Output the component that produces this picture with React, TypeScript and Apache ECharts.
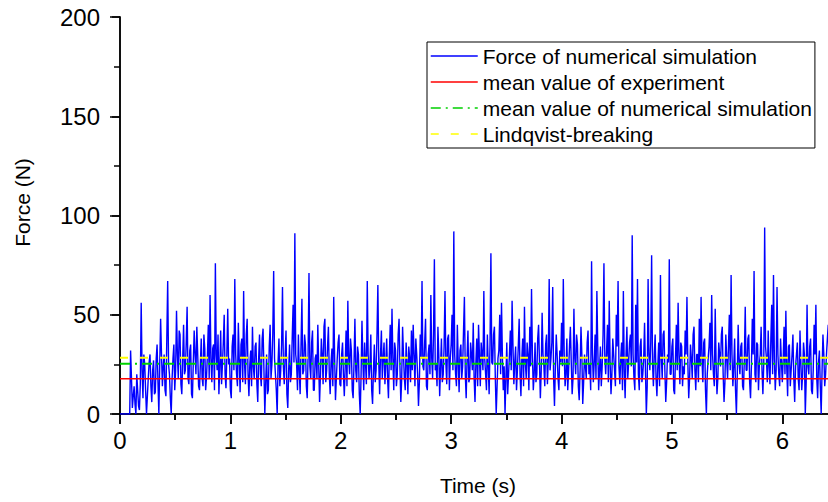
import React, { useEffect, useRef } from "react";
import * as echarts from "echarts";

// sampling step of the simulated force signal (s)
const timeStep = 0.008;

// Force of numerical simulation (N)
const forceValues: number[] = [
  0, 0, 0, 0, 0, 0, 0, 0, 0, 0, 0, 0, 32, 18, 3, 9, 14, 5, 0, 20, 12, 4, 2, 15, 56, 22, 8, 30, 25, 12, 0, 9, 18, 26, 30, 14, 6, 22, 27, 10, 11, 28, 35, 16, 0, 25, 48, 30, 14, 24,
  30, 12, 9, 38, 67, 25, 20, 8, 0, 18, 28, 35, 12, 22, 52, 30, 18, 42, 40, 15, 10, 28, 45, 20, 22, 36, 54, 18, 15, 32, 35, 10, 8, 26, 42, 30, 20, 44, 30, 14, 12, 25, 38, 18, 14, 40, 33, 12, 19, 30,
  45, 18, 60, 28, 16, 33, 35, 12, 76, 30, 22, 40, 10, 24, 42, 15, 25, 36, 50, 20, 13, 30, 53, 25, 28, 12, 8, 34, 40, 22, 68, 30, 20, 14, 46, 28, 11, 35, 38, 16, 62, 26, 15, 40, 48, 20, 9, 25, 32, 14,
  44, 24, 18, 34, 36, 15, 6, 28, 40, 20, 14, 38, 43, 22, 0, 16, 30, 10, 12, 34, 45, 18, 25, 40, 72, 28, 20, 12, 0, 26, 38, 14, 22, 35, 64, 24, 15, 30, 42, 10, 3, 22, 35, 16, 20, 38, 55, 26, 91, 30,
  25, 12, 40, 22, 10, 35, 58, 20, 22, 40, 35, 14, 8, 30, 71, 24, 18, 36, 42, 12, 12, 28, 30, 18, 45, 25, 6, 20, 38, 30, 15, 44, 48, 16, 22, 34, 44, 20, 10, 26, 33, 14, 59, 30, 7, 18, 28, 36, 40, 15,
  14, 30, 36, 20, 9, 24, 42, 14, 57, 28, 20, 38, 32, 12, 8, 26, 48, 22, 16, 34, 30, 10, 0, 20, 47, 28, 12, 36, 26, 15, 67, 30, 18, 24, 40, 12, 5, 22, 35, 16, 22, 40, 65, 26, 10, 30, 42, 18, 28, 36,
  15, 26, 38, 18, 8, 30, 45, 22, 53, 28, 12, 36, 32, 14, 20, 40, 48, 24, 6, 18, 44, 30, 18, 12, 36, 26, 10, 34, 28, 16, 42, 22, 45, 30, 14, 38, 30, 20, 4, 16, 40, 28, 67, 24, 22, 36, 48, 14, 12, 30,
  35, 20, 60, 28, 18, 40, 78, 22, 25, 14, 44, 30, 9, 24, 38, 16, 20, 34, 62, 26, 15, 38, 40, 12, 28, 35, 50, 22, 92, 30, 20, 14, 45, 26, 11, 32, 35, 18, 24, 42, 59, 20, 8, 28, 42, 16, 18, 36, 30, 22,
  46, 18, 6, 26, 38, 14, 45, 30, 14, 36, 30, 22, 62, 28, 20, 12, 40, 24, 10, 35, 81, 26, 25, 40, 44, 18, 0, 14, 28, 32, 50, 20, 56, 30, 12, 24, 0, 18, 36, 10, 20, 30, 42, 22, 57, 34, 15, 26, 34, 12,
  22, 34, 48, 20, 9, 28, 38, 14, 54, 26, 18, 36, 30, 12, 44, 24, 63, 30, 12, 20, 36, 16, 20, 38, 45, 26, 8, 22, 51, 30, 24, 14, 35, 40, 15, 28, 68, 22, 28, 36, 64, 18, 4, 24, 40, 30, 18, 12, 32, 26,
  46, 24, 68, 30, 14, 20, 38, 12, 22, 34, 44, 26, 10, 18, 53, 28, 20, 40, 35, 14, 7, 22, 44, 30, 5, 16, 30, 24, 18, 36, 42, 20, 25, 12, 77, 30, 16, 26, 40, 18, 62, 34, 12, 22, 34, 14, 24, 40, 76, 28,
  20, 32, 45, 16, 57, 26, 10, 20, 38, 30, 22, 14, 50, 34, 67, 24, 15, 28, 36, 12, 62, 22, 8, 30, 44, 18, 26, 36, 40, 24, 90, 30, 18, 12, 55, 26, 68, 20, 12, 34, 38, 16, 20, 28, 46, 22, 0, 14, 68, 30,
  22, 36, 80, 26, 14, 30, 40, 18, 9, 24, 36, 14, 70, 28, 18, 40, 42, 22, 6, 16, 30, 26, 78, 20, 20, 34, 38, 12, 10, 28, 45, 22, 56, 30, 15, 36, 34, 14, 24, 20, 42, 30, 59, 26, 8, 18, 35, 28, 18, 40,
  44, 22, 12, 30, 30, 16, 48, 24, 59, 28, 16, 36, 38, 12, 0, 20, 28, 34, 46, 22, 60, 30, 20, 14, 53, 26, 10, 18, 36, 30, 24, 40, 44, 20, 6, 16, 40, 28, 18, 34, 50, 22, 70, 30, 14, 24, 38, 12, 0, 20,
  45, 26, 20, 34, 36, 14, 12, 28, 54, 22, 22, 38, 40, 16, 8, 24, 48, 30, 72, 20, 16, 36, 35, 12, 25, 30, 44, 22, 10, 26, 94, 34, 28, 16, 42, 24, 15, 38, 55, 20, 70, 28, 12, 22, 64, 30, 20, 14, 38, 26,
  16, 28, 44, 20, 52, 24, 9, 34, 35, 14, 22, 30, 40, 18, 6, 24, 30, 36, 18, 12, 42, 26, 12, 20, 36, 30, 0, 16, 55, 24, 20, 34, 38, 12, 10, 22, 45, 30, 55, 18, 8, 26, 32, 14, 0, 22, 40, 30, 14, 20, 30, 38, 45, 22, 12, 28, 28, 16,
];

const meanExperiment = 17.8;
const meanSimulation = 25.3;
const lindqvistBreaking = 28.4;

const xRange = [0, 6.45];
const yRange = [0, 200];

const seriesNames = [
  "Force of numerical simulation",
  "mean value of experiment",
  "mean value of numerical simulation",
  "Lindqvist-breaking",
];

const xTitle = "Time (s)";
const yTitle = "Force (N)";

const FONT = "'Liberation Sans', Arial, Helvetica, sans-serif";

export default function App() {
  const ref = useRef<HTMLDivElement>(null);

  useEffect(() => {
    document.body.style.margin = "0";
    if (!ref.current) return;
    const chart = echarts.init(ref.current, undefined, { renderer: "svg" });

    const forceData = forceValues.map((v, i) => [i * timeStep, v]);
    const hLine = (v: number) => [
      [xRange[0], v],
      [xRange[1], v],
    ];

    const axisLine = { show: true, lineStyle: { color: "#000", width: 1.5 } };

    chart.setOption({
      animation: false,
      backgroundColor: "#fff",
      textStyle: { fontFamily: FONT },
      grid: { left: 120, right: 0, top: 17, bottom: 88, containLabel: false },
      legend: {
        orient: "vertical",
        left: 427,
        top: 42,
        data: seriesNames,
        itemWidth: 47,
        itemHeight: 14,
        itemGap: 0,
        padding: [1, 3, 1, 3],
        borderColor: "#000",
        borderWidth: 1,
        backgroundColor: "#fff",
        itemStyle: { opacity: 0 },
        lineStyle: { width: 1.5 },
        textStyle: { fontSize: 21, lineHeight: 26, color: "#000", fontFamily: FONT },
      },
      xAxis: [
        {
          type: "value",
          position: "bottom",
          min: xRange[0],
          max: xRange[1],
          interval: 1,
          axisLine,
          axisTick: { show: true, inside: false, length: 10, lineStyle: { color: "#000", width: 1.5 } },
          minorTick: { show: true, splitNumber: 2, length: 6, lineStyle: { color: "#000", width: 1.5 } },
          axisLabel: {
            fontSize: 24,
            color: "#000",
            margin: 14,
            showMaxLabel: false,
            fontFamily: FONT,
            formatter: (v: number) => (Number.isInteger(v) ? String(v) : ""),
          },
          splitLine: { show: false },
        },
        {
          type: "value",
          position: "top",
          min: xRange[0],
          max: xRange[1],
          interval: 1,
          axisLine,
          axisTick: { show: true, inside: true, length: 10, lineStyle: { color: "#000", width: 1.5 } },
          minorTick: { show: true, splitNumber: 2, length: 6, lineStyle: { color: "#000", width: 1.5 } },
          axisLabel: { show: false },
          splitLine: { show: false },
        },
      ],
      yAxis: [
        {
          type: "value",
          position: "left",
          min: yRange[0],
          max: yRange[1],
          interval: 50,
          axisLine,
          axisTick: { show: true, inside: false, length: 10, lineStyle: { color: "#000", width: 1.5 } },
          minorTick: { show: true, splitNumber: 2, length: 6, lineStyle: { color: "#000", width: 1.5 } },
          axisLabel: { fontSize: 24, color: "#000", margin: 20, fontFamily: FONT },
          splitLine: { show: false },
        },
        {
          type: "value",
          position: "right",
          min: yRange[0],
          max: yRange[1],
          interval: 50,
          axisLine,
          axisTick: { show: true, inside: true, length: 8, lineStyle: { color: "#000", width: 1.5 } },
          minorTick: { show: false },
          axisLabel: { show: false },
          splitLine: { show: false },
        },
      ],
      series: [
        {
          name: seriesNames[0],
          type: "line",
          data: forceData,
          symbol: "none",
          lineStyle: { color: "#0000ff", width: 1.4 },
          itemStyle: { color: "#0000ff" },
        },
        {
          name: seriesNames[1],
          type: "line",
          data: hLine(meanExperiment),
          symbol: "none",
          lineStyle: { color: "#ff0000", width: 1.5 },
          itemStyle: { color: "#ff0000" },
        },
        {
          name: seriesNames[2],
          type: "line",
          data: hLine(meanSimulation),
          symbol: "none",
          lineStyle: { color: "#00d000", width: 2, type: [10, 5, 2, 5] },
          itemStyle: { color: "#00d000" },
        },
        {
          name: seriesNames[3],
          type: "line",
          data: hLine(lindqvistBreaking),
          symbol: "none",
          lineStyle: { color: "#ffff00", width: 2, type: [8, 12] },
          itemStyle: { color: "#ffff00" },
        },
      ],
      graphic: [
        {
          type: "text",
          x: 22.5,
          y: 202.5,
          rotation: Math.PI / 2,
          style: {
            text: yTitle,
            fontSize: 21,
            fontFamily: FONT,
            fill: "#000",
            align: "center",
            verticalAlign: "middle",
          },
        },
        {
          type: "text",
          x: 478,
          y: 485,
          style: {
            text: xTitle,
            fontSize: 21,
            fontFamily: FONT,
            fill: "#000",
            align: "center",
            verticalAlign: "middle",
          },
        },
      ],
    });

    return () => chart.dispose();
  }, []);

  return (
    <div style={{ width: 828, height: 502, overflow: "hidden", position: "relative" }}>
      <div ref={ref} style={{ width: 832, height: 502 }} />
    </div>
  );
}
